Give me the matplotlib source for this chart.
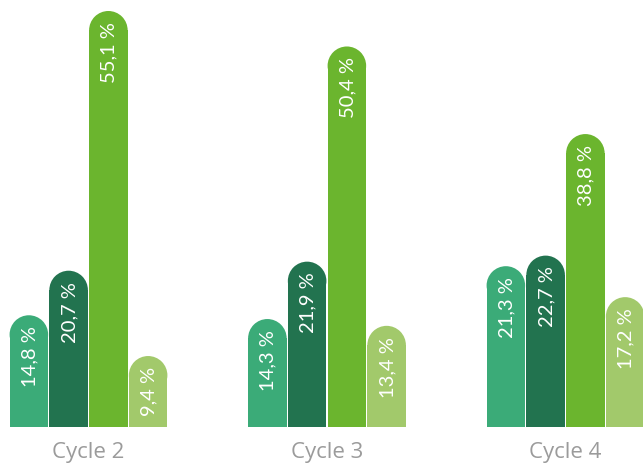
import matplotlib.pyplot as plt
from matplotlib.patches import Ellipse

cycles = ['Cycle 2', 'Cycle 3', 'Cycle 4']
teal = [14.8, 14.3, 21.3]
dark = [20.7, 21.9, 22.7]
bright = [55.1, 50.4, 38.8]
light = [9.4, 13.4, 17.2]

series = [teal, dark, bright, light]
colors = ['#3bab78', '#22734f', '#6bb52e', '#a2c96b']

# pixel scale: one bar = 39.75 px, one percent = 7.55 px
px_x = 39.75
px_y = 7.55

fig = plt.figure(figsize=(6.43, 4.64), dpi=100)
ax = fig.add_axes([0, 0, 1, 1])
ax.set_xlim(-9 / px_x, (643 - 9) / px_x)
ax.set_ylim(-36 / px_y, (464 - 36) / px_y)
ax.axis('off')

gap = 1.2 / px_x
w = 1 - gap
r_y = (w * px_x / 2) / px_y  # cap radius in y units

for g, name in enumerate(cycles):
    start = g * 6
    for i, (vals, col) in enumerate(zip(series, colors)):
        v = vals[g]
        xc = start + i + 0.5
        ax.bar(xc, v - r_y, width=w, bottom=0, color=col, linewidth=0)
        ax.add_patch(Ellipse((xc, v - r_y), w, 2 * r_y, color=col, linewidth=0))
        ax.text(xc + 0.02, v - 10 / px_y, f'{v:.1f}'.replace('.', ',') + ' %',
                rotation=90, ha='center', va='top', color='white',
                fontsize=14.5, family=['Lato', 'DejaVu Sans'])
    ax.text(start + 2, -25 / px_y, name, ha='center', va='center',
            color='#9b9b9b', fontsize=16, family=['Open Sans', 'DejaVu Sans'])

plt.savefig('out.png', dpi=100)
